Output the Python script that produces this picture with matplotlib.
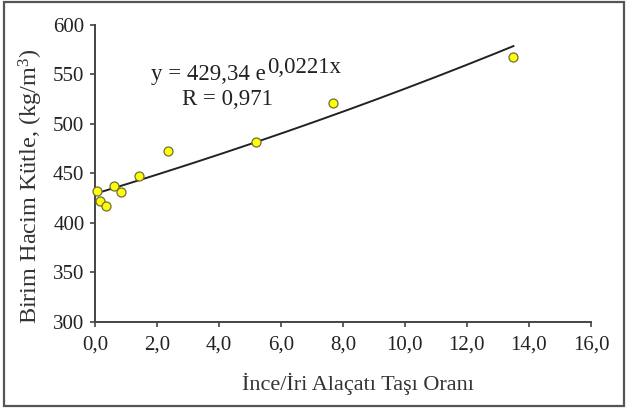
import numpy as np
import matplotlib
matplotlib.use("Agg")
import matplotlib.pyplot as plt
from matplotlib.patches import Rectangle

# Data
ratio = [0.08, 0.18, 0.36, 0.61, 0.83, 1.43, 2.36, 5.21, 7.69, 13.5]
density = [432.3, 422.2, 417.5, 437.7, 431.0, 447.5, 473.1, 481.8, 521.2, 567.7]
fit_a = 429.34
fit_b = 0.0221
fit_xmax = 13.5
xticks = [0, 2, 4, 6, 8, 10, 12, 14, 16]
xtick_labels = ["0,0", "2,0", "4,0", "6,0", "8,0", "10,0", "12,0", "14,0", "16,0"]
yticks = [300, 350, 400, 450, 500, 550, 600]

plt.rcParams['font.family'] = ['Liberation Serif', 'DejaVu Serif']
plt.rcParams['mathtext.fontset'] = 'custom'
plt.rcParams['mathtext.rm'] = 'Liberation Serif'

fig = plt.figure(figsize=(6.28, 4.08), dpi=100)
ax = fig.add_axes([0.151, 0.211, 0.790, 0.728])

xf = np.linspace(0, fit_xmax, 200)
ax.plot(xf, fit_a * np.exp(fit_b * xf), color='#222222', lw=1.4, zorder=2)
ax.scatter(ratio, density, s=42, facecolor='#ffff00', edgecolor='#6e6e40',
           linewidth=0.9, zorder=3, clip_on=False)

ax.set_xlim(0, 16)
ax.set_ylim(300, 600)
ax.set_xticks(xticks)
ax.set_xticklabels(xtick_labels)
ax.set_yticks(yticks)
for s in ['top', 'right']:
    ax.spines[s].set_visible(False)
for s in ['left', 'bottom']:
    ax.spines[s].set_color('#444444')
    ax.spines[s].set_linewidth(1.4)
ax.tick_params(axis='both', colors='#444444', labelcolor='#222222',
               labelsize=15, length=3.5, width=1.2)
ax.tick_params(axis='x', pad=6)
ax.tick_params(axis='y', pad=4)

ax.set_xlabel('İnce/İri Alaçatı Taşı Oranı', fontsize=16, color='#333333')
ax.xaxis.set_label_coords(0.53, -0.17)
ax.set_ylabel('Birim Hacim Kütle, (kg/m$\\mathrm{^3}$)', fontsize=17.5, color='#333333')
ax.yaxis.set_label_coords(-0.10, 0.458)

t1 = ax.text(1.81, 544.4, 'y = 429,34 e', fontsize=16.5, color='#222222',
             va='baseline', ha='left')
ax.text(2.81, 519.2, 'R = 0,971', fontsize=16.5, color='#222222',
        va='baseline', ha='left')

fig.canvas.draw()
bb = t1.get_window_extent(renderer=fig.canvas.get_renderer())
x_sup = ax.transData.inverted().transform((bb.x1 + 1, bb.y0))[0]
ax.text(x_sup, 551.8, '0,0221x', fontsize=16.5, color='#222222',
        va='baseline', ha='left')

fig.patches.append(Rectangle((0.006, 0.006), 0.988, 0.988, transform=fig.transFigure,
                             fill=False, edgecolor='#555555', linewidth=1.6))

fig.savefig('out.png', dpi=100)
